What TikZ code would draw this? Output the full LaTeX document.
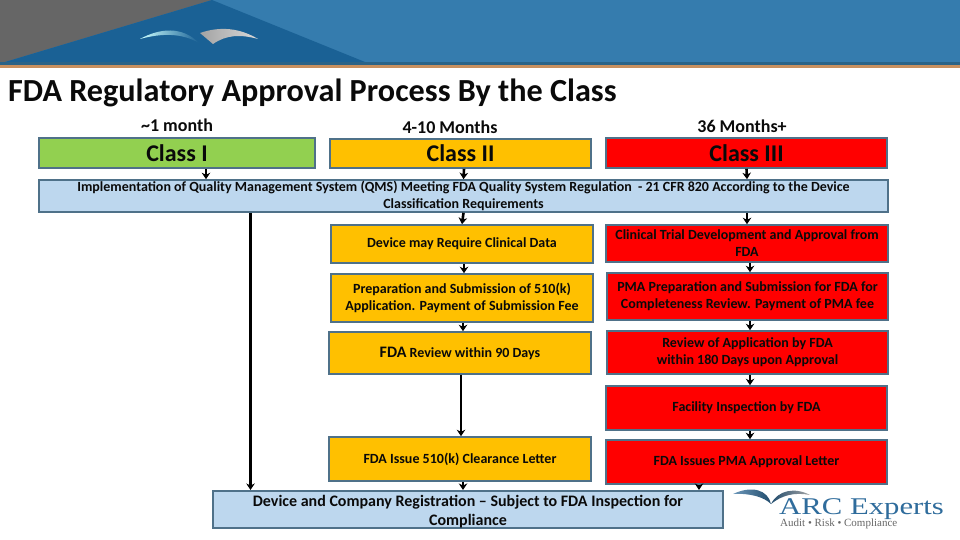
\documentclass[tikz,border=0pt]{standalone}
\usepackage{fontspec}
\setmainfont{Carlito}
\newfontfamily\logofont[FakeStretch=1.28]{Liberation Serif}
\newfontfamily\mottofont{Liberation Serif}
\usetikzlibrary{arrows.meta,positioning,calc}
\definecolor{ink}{HTML}{0A0A0A}
\definecolor{edge}{HTML}{4F7189}
\definecolor{steel}{HTML}{357CAE}
\definecolor{deepblue}{HTML}{1A6195}
\definecolor{bandblue}{HTML}{2A6387}
\definecolor{copper}{HTML}{C8905F}
\definecolor{slate}{HTML}{666666}
\definecolor{leaf}{HTML}{92D050}
\definecolor{amber}{HTML}{FFC000}
\definecolor{signal}{HTML}{FF0000}
\definecolor{sky}{HTML}{BDD7EE}
\definecolor{logoblue}{HTML}{2F6C9C}
\tikzset{
  >={Stealth[length=6.5pt,width=8.5pt]},
  flow/.style={->,draw=black,line width=2.6pt},
  classbox/.style={draw=edge,line width=1.6pt,font=\bfseries\fontsize{24}{27}\selectfont,text=ink,inner sep=0pt},
  stepbox/.style={draw=edge,line width=1.6pt,font=\bfseries\fontsize{14}{17}\selectfont,text=ink,align=center,inner sep=0pt},
  timelabel/.style={font=\bfseries\fontsize{18}{20}\selectfont,text=ink},
}

\begin{document}
\begin{tikzpicture}[x=1pt,y=-1pt]
\useasboundingbox (0,0) rectangle (960,540);

% Header band ------------------------------------------------------------------
\fill[steel] (0,0) rectangle (960,62);
\fill[slate] (0,0) -- (212,0) -- (5,62) -- (0,62) -- cycle;
\fill[deepblue] (212,0) -- (365,62) -- (5,62) -- cycle;
\fill[bandblue] (0,62) rectangle (960,65);
\fill[copper] (0,65) rectangle (960,68);
\shade[left color=white!80!cyan,right color=deepblue] (140,39) .. controls (160,28) and (182,26) .. (199,43) .. controls (182,33) and (162,33) .. (140,39) -- cycle;
\shade[left color=slate!60,right color=white!75!slate] (200,33) .. controls (220,26) and (240,28) .. (258,39) .. controls (240,34) and (226,35) .. (213,44) -- cycle;

% Title ------------------------------------------------------------------------
\node[anchor=west,inner sep=0pt,font=\bfseries\fontsize{32.2}{34}\selectfont,text=ink] (title) at (8,93) {FDA Regulatory Approval Process By the Class};

% Classes ----------------------------------------------------------------------
\node[timelabel] (time1) at (177,125) {\textasciitilde 1 month};
\node[timelabel] (time2) at (450,127) {4-10 Months};
\node[timelabel] (time3) at (742,126) {36 Months+};
\node[classbox,fill=leaf,minimum width=276pt,minimum height=30pt] (class1) at (177,153) {Class I};
\node[classbox,fill=amber,minimum width=261pt,minimum height=29pt] (class2) at (460.5,153.5) {Class II};
\node[classbox,fill=signal,minimum width=281pt,minimum height=30pt] (class3) at (746.5,153) {Class III};

\node[stepbox,fill=sky,minimum width=849pt,minimum height=32pt] (qms) at (463.5,196) {Implementation of Quality Management System (QMS) Meeting FDA Quality System Regulation\ \ - 21 CFR 820 According to the Device\\Classification Requirements};

% Class II path ----------------------------------------------------------------
\node[stepbox,fill=amber,minimum width=262pt,minimum height=38pt] (data) at (462,244) {Device may Require Clinical Data};
\node[stepbox,fill=amber,minimum width=262pt,minimum height=48pt] (prep) at (462,298) {Preparation and Submission of 510(k)\\Application. Payment of Submission Fee};
\node[stepbox,fill=amber,minimum width=262pt,minimum height=42pt] (review) at (460,353) {{\fontsize{16}{17}\selectfont FDA} Review within 90 Days};
\node[stepbox,fill=amber,minimum width=262pt,minimum height=44pt] (letter) at (460,459) {FDA Issue 510(k) Clearance Letter};

% Class III path ---------------------------------------------------------------
\node[stepbox,fill=signal,minimum width=282pt,minimum height=37pt] (trial) at (747,243.5) {Clinical Trial Development and Approval from\\FDA};
\node[stepbox,fill=signal,minimum width=281pt,minimum height=47pt] (pma) at (747.5,296.5) {PMA Preparation and Submission for FDA for\\Completeness Review. Payment of PMA fee};
\node[stepbox,fill=signal,minimum width=281pt,minimum height=43pt] (pmareview) at (747.5,352.5) {Review of Application by FDA\\within 180 Days upon Approval};
\node[stepbox,fill=signal,minimum width=281pt,minimum height=44pt] (facility) at (746.5,408) {Facility Inspection by FDA};
\node[stepbox,fill=signal,minimum width=281pt,minimum height=44pt] (approval) at (746.5,462) {FDA Issues PMA Approval Letter};

% Registration -----------------------------------------------------------------
\node[stepbox,fill=sky,minimum width=510pt,minimum height=35pt,font=\bfseries\fontsize{16}{19}\selectfont] (reg) at (468,509.5) {\rule{0pt}{16pt}Device and Company Registration -- Subject to FDA Inspection for\\Compliance};

% Connectors -------------------------------------------------------------------
\draw[flow] ([xshift=29pt]class1.south) -- ([xshift=-257.5pt]qms.north);
\draw[flow] ([xshift=3.5pt]class2.south) -- (qms.north);
\draw[flow] (class3.south) -- ([xshift=283.5pt]qms.north);
\draw[flow] ([xshift=-213pt]qms.south) -- ([xshift=-217.5pt]reg.north);
\draw[flow] (qms.south) -- (data.north);
\draw[flow] ([xshift=283.5pt]qms.south) -- (trial.north);
\draw[flow] ([xshift=2pt]data.south) -- ([xshift=2pt]prep.north);
\draw[flow] ([xshift=1pt]prep.south) -- ([xshift=3pt]review.north);
\draw[flow] ([xshift=1pt]review.south) -- ([xshift=1pt]letter.north);
\draw[flow] ([xshift=3pt]letter.south) -- ([xshift=-5pt]reg.north);
\draw[flow] ([xshift=3pt]trial.south) -- ([xshift=2.5pt]pma.north);
\draw[flow] ([xshift=2.5pt]pma.south) -- ([xshift=2.5pt]pmareview.north);
\draw[flow] ([xshift=2.5pt]pmareview.south) -- ([xshift=3.5pt]facility.north);
\draw[flow] ([xshift=3.5pt]facility.south) -- ([xshift=3.5pt]approval.north);
\draw[flow] ([xshift=-47.5pt]approval.south) -- ([xshift=231pt]reg.north);

% Logo -------------------------------------------------------------------------
\shade[left color=logoblue!70,right color=logoblue!70!black] (733,494) .. controls (752,485) and (768,490) .. (771,504) .. controls (764,497) and (750,493) .. (733,494) -- cycle;
\shade[left color=logoblue!70!black,right color=slate!60] (771,504) .. controls (778,490) and (795,487) .. (810,495) .. controls (795,492) and (782,495) .. (771,504) -- cycle;
\node[anchor=west,inner sep=0pt,text=logoblue,font=\logofont\fontsize{24}{26}\selectfont] (arc) at (779,509) {ARC Experts};
\node[anchor=west,inner sep=0pt,text=slate,font=\mottofont\fontsize{11}{12}\selectfont] (motto) at (780,524) {Audit • Risk • Compliance};

\end{tikzpicture}
\end{document}
